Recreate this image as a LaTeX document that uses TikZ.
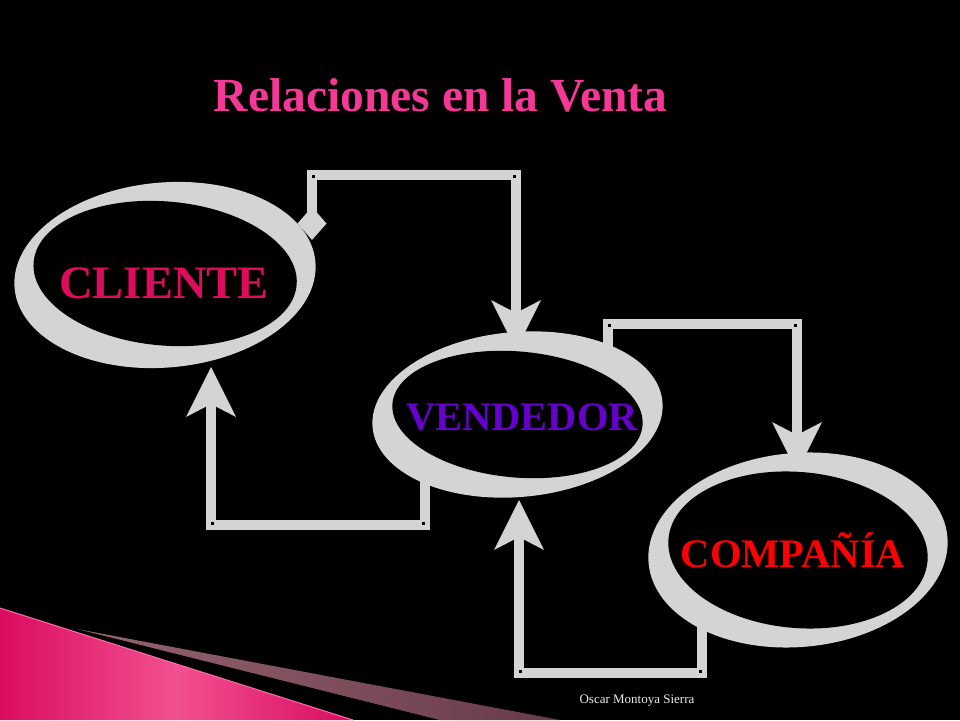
\documentclass[tikz,border=0pt]{standalone}
\usepackage{fontspec}
\setmainfont{Liberation Serif}
\usetikzlibrary{arrows.meta,calc}
\definecolor{ring}{RGB}{212,212,212}
\definecolor{titlepink}{RGB}{245,55,150}
\definecolor{clientecol}{RGB}{222,12,92}
\definecolor{vendcol}{RGB}{102,0,204}
\definecolor{compcol}{RGB}{255,0,0}
\definecolor{pinkD}{RGB}{218,12,95}
\definecolor{pinkL}{RGB}{242,80,145}
\definecolor{pinkE}{RGB}{250,110,170}
\definecolor{mauveL}{RGB}{150,100,112}
\definecolor{mauveD}{RGB}{104,58,74}
\definecolor{footcol}{RGB}{235,235,235}
\begin{document}
\begin{tikzpicture}[x=1pt,y=-1pt,
  conn/.style={draw=ring, line width=10pt, line join=miter},
  headtip/.tip={Stealth[length=50pt,width=50pt,inset=13pt,line width=0pt]},
  tailtip/.tip={Turned Square[length=33pt,width=29pt,line width=0pt]},
  ringfill/.style={fill=ring},
  holefill/.style={fill=black},
  label/.style={font=\bfseries, anchor=base, inner sep=0pt},
  cdot/.style={fill=black}]
\useasboundingbox (0,0) rectangle (960,720);
\fill[black] (0,0) rectangle (960,720);

% decoration bottom-left
\shade[left color=pinkD, right color=pinkD, middle color=pinkL]
  (0,608) -- (353,720) -- (0,720) -- cycle;
\draw[pinkE, line width=1pt] (0,608) -- (353,720);
\shade[left color=mauveL, right color=mauveD]
  (77,629) -- (560,720) -- (440,720) -- cycle;

% ellipse centres
\coordinate (cl) at (165,275);
\coordinate (ve) at (517.5,414.5);
\coordinate (co) at (798,550);

% connector points
\coordinate (s1) at (312,240);
\coordinate (c1a) at (312,175);
\coordinate (c1b) at (516,175);
\coordinate (e1) at (516,350);

\coordinate (s2) at (425,470);
\coordinate (c2a) at (425,525);
\coordinate (c2b) at (211,525);
\coordinate (e2) at (211,367);

\coordinate (s3) at (608,360);
\coordinate (c3a) at (608,324);
\coordinate (c3b) at (797,324);
\coordinate (e3) at (797,472);

\coordinate (s4) at (702,615);
\coordinate (c4a) at (702,673);
\coordinate (c4b) at (519,673);
\coordinate (e4) at (519,500);

\draw[conn, tailtip-headtip] (s1) -- (c1a) -- (c1b) -- (e1);
\draw[conn, -headtip] (s2) -- (c2a) -- (c2b) -- (e2);
\draw[conn, -headtip] (s3) -- (c3a) -- (c3b) -- (e3);
\draw[conn, -headtip] (s4) -- (c4a) -- (c4b) -- (e4);

% corner dots
\fill[cdot] ($(c1a)+(0,0)$) rectangle ++(3,3);
\fill[cdot] ($(c1b)+(-3,0)$) rectangle ++(3,3);
\fill[cdot] ($(c2a)+(-3,-3)$) rectangle ++(3,3);
\fill[cdot] ($(c2b)+(0,-3)$) rectangle ++(3,3);
\fill[cdot] ($(c3a)+(0,0)$) rectangle ++(3,3);
\fill[cdot] ($(c3b)+(-3,0)$) rectangle ++(3,3);
\fill[cdot] ($(c4a)+(-3,-3)$) rectangle ++(3,3);
\fill[cdot] ($(c4b)+(0,-3)$) rectangle ++(3,3);

% rings
\fill[ringfill, rotate around={5:(cl)}] (cl) ellipse [x radius=151, y radius=92.5];
\fill[holefill, rotate around={-5:($(cl)+(0,-1.5)$)}] ($(cl)+(0,-1.5)$) ellipse [x radius=132, y radius=72];

\fill[ringfill, rotate around={5:(ve)}] (ve) ellipse [x radius=145.5, y radius=82.5];
\fill[holefill, rotate around={-5:(ve)}] (ve) ellipse [x radius=125.5, y radius=63];

\fill[ringfill, rotate around={5:(co)}] (co) ellipse [x radius=150, y radius=97];
\fill[holefill, rotate around={-5:(co)}] (co) ellipse [x radius=130, y radius=78];

% labels
\node[label, text=clientecol, font=\fontsize{46.5}{50}\selectfont\bfseries] (cliente) at (164,298) {CLIENTE};
\node[label, text=vendcol, font=\fontsize{40.5}{45}\selectfont\bfseries] (vendedor) at (522,430) {VENDEDOR};
\node[label, text=compcol, font=\fontsize{40.5}{45}\selectfont\bfseries] (compania) at (793,567) {COMPAÑÍA};

\node[label, text=titlepink, font=\fontsize{47.5}{52}\selectfont\bfseries] (title) at (440.5,111) {Relaciones en la Venta};
\node[anchor=base, inner sep=0pt, text=footcol, font=\fontsize{13}{15}\selectfont] (footer) at (637,703) {Oscar Montoya Sierra};
\end{tikzpicture}
\end{document}
